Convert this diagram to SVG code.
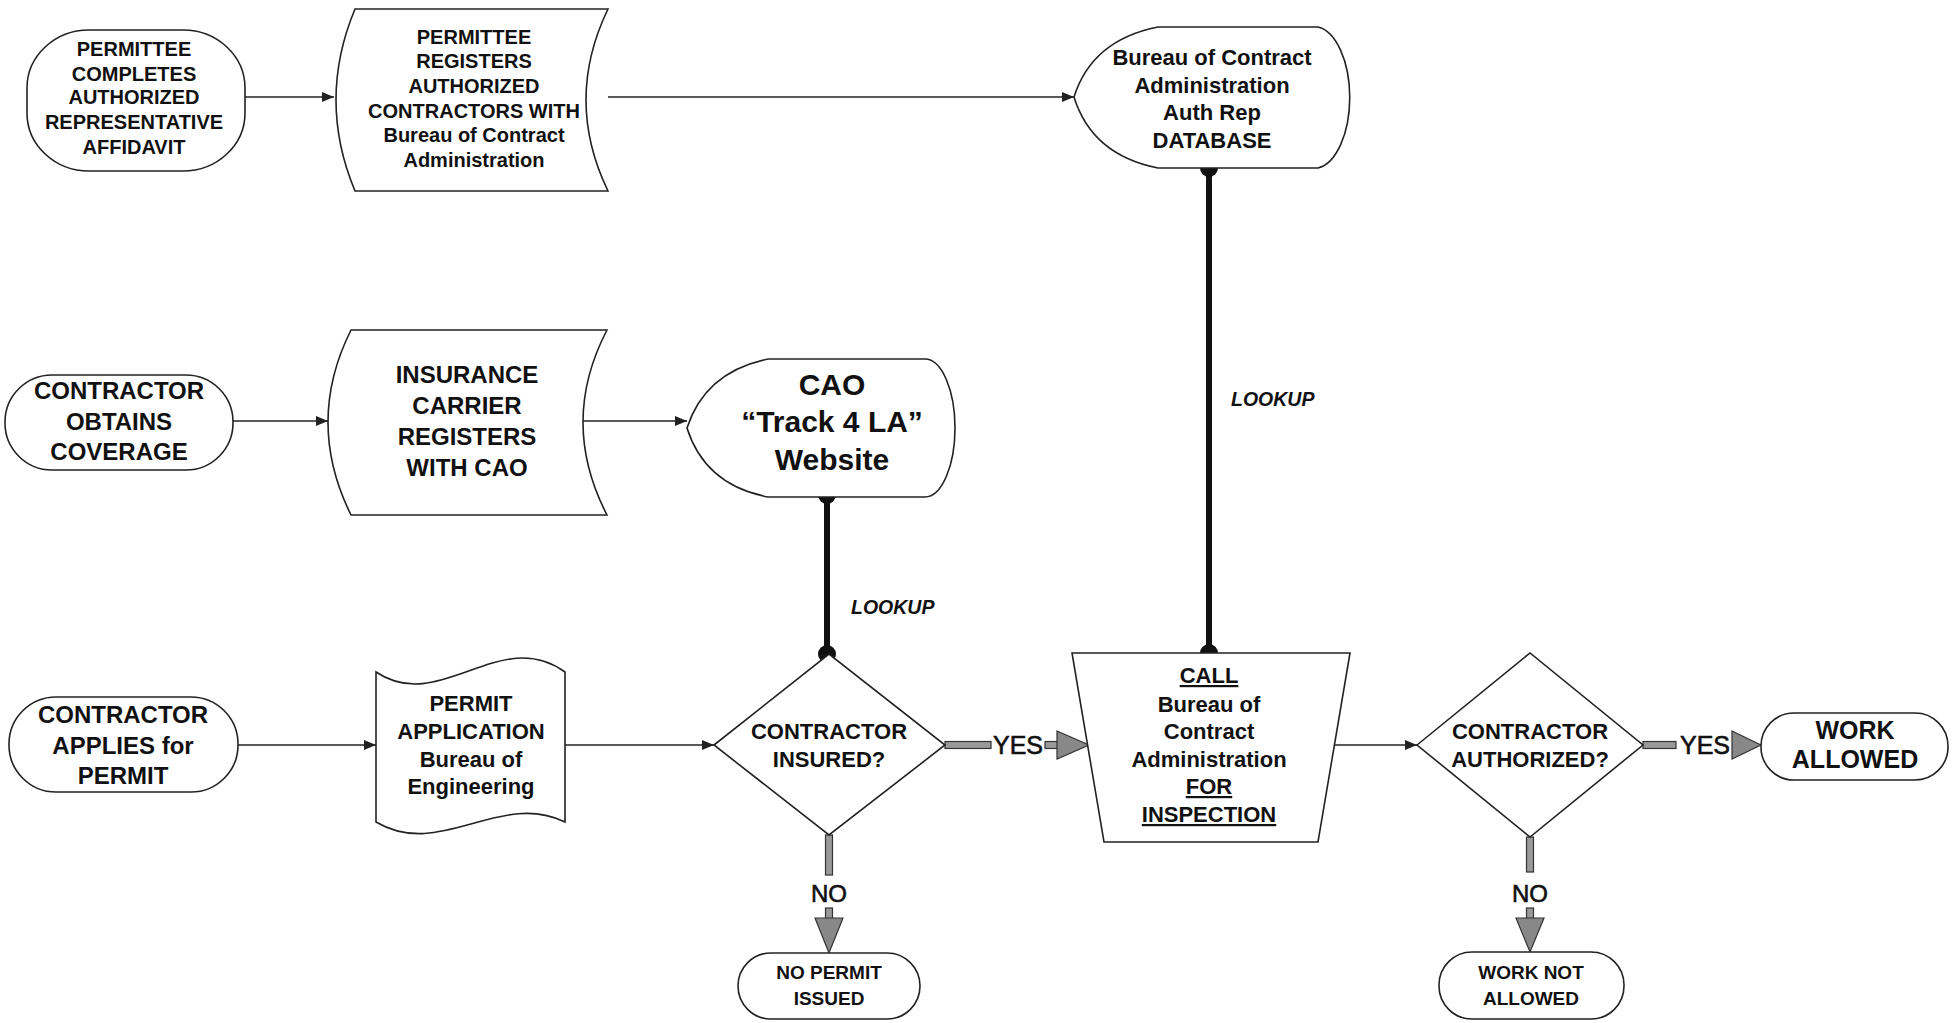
<svg xmlns="http://www.w3.org/2000/svg" width="1954" height="1023" viewBox="0 0 1954 1023">
<style>
.shape{fill:#fff;stroke:#222;stroke-width:1.6}
.t{font-family:"Liberation Sans",Arial,sans-serif;font-weight:bold;fill:#111;text-anchor:middle}
.thin{stroke:#222;stroke-width:1.6;fill:none}
.look{stroke:#111;stroke-width:6;fill:none}
.dot{fill:#111}
.gbar{fill:#999;stroke:#333;stroke-width:1.2}
.ghead{fill:#888;stroke:#333;stroke-width:1.2}
.lbl{font-family:"Liberation Sans",Arial,sans-serif;fill:#111;stroke:#111;stroke-width:0.6;text-anchor:middle}
.lk{font-family:"Liberation Sans",Arial,sans-serif;font-weight:bold;font-style:italic;fill:#111}
.u{text-decoration:underline}
</style>
<defs>
<marker id="ah" viewBox="0 0 12 10" refX="12" refY="5" markerWidth="12" markerHeight="10" markerUnits="userSpaceOnUse" orient="auto">
<path d="M0,0 L12,5 L0,10 Z" fill="#222"/>
</marker>
</defs>
<rect width="1954" height="1023" fill="#fff"/>

<g id="connectors">
<line class="thin" x1="245" y1="97" x2="334" y2="97" marker-end="url(#ah)"/>
<line class="thin" x1="608" y1="97" x2="1074" y2="97" marker-end="url(#ah)"/>
<line class="thin" x1="233" y1="421" x2="328" y2="421" marker-end="url(#ah)"/>
<line class="thin" x1="583" y1="421" x2="687" y2="421" marker-end="url(#ah)"/>
<line class="thin" x1="238" y1="745" x2="376" y2="745" marker-end="url(#ah)"/>
<line class="thin" x1="565" y1="745" x2="714" y2="745" marker-end="url(#ah)"/>
<line class="thin" x1="1334" y1="745" x2="1417" y2="745" marker-end="url(#ah)"/>

<line class="look" x1="1209" y1="168" x2="1209" y2="653"/>
<circle class="dot" cx="1209" cy="168" r="9"/>
<circle class="dot" cx="1209" cy="653" r="9"/>
<text class="lk" x="1231" y="406" font-size="19.5">LOOKUP</text>

<line class="look" x1="827" y1="495" x2="827" y2="654"/>
<circle class="dot" cx="827" cy="495" r="9"/>
<circle class="dot" cx="827" cy="654" r="9"/>
<text class="lk" x="851" y="614" font-size="19.5">LOOKUP</text>

<rect class="gbar" x="945" y="741.5" width="46" height="7"/>
<text class="lbl" x="1018" y="754" font-size="25">YES</text>
<rect class="gbar" x="1045" y="741.5" width="14" height="7"/>
<polygon class="ghead" points="1057,731 1089,745 1057,759"/>

<rect class="gbar" x="825.5" y="835" width="7" height="40"/>
<text class="lbl" x="829" y="902" font-size="24">NO</text>
<rect class="gbar" x="825.5" y="908" width="7" height="12"/>
<polygon class="ghead" points="815,918 843,918 829,953"/>

<rect class="gbar" x="1643" y="741.5" width="33" height="7"/>
<text class="lbl" x="1705" y="754" font-size="25">YES</text>
<polygon class="ghead" points="1732,731 1761,745 1732,759"/>

<rect class="gbar" x="1526.5" y="837" width="7" height="35"/>
<text class="lbl" x="1530" y="902" font-size="24">NO</text>
<rect class="gbar" x="1526.5" y="908" width="7" height="12"/>
<polygon class="ghead" points="1516,918 1544,918 1530,952"/>
</g>

<g id="n1">
<rect class="shape" x="27" y="30" width="218" height="141" rx="62" ry="58"/>
<text class="t" font-size="20"><tspan x="134" y="56">PERMITTEE</tspan><tspan x="134" y="80.5">COMPLETES</tspan><tspan x="134" y="104">AUTHORIZED</tspan><tspan x="134" y="129">REPRESENTATIVE</tspan><tspan x="134" y="154">AFFIDAVIT</tspan></text>
</g>

<g id="n2">
<path class="shape" d="M355,9 L608,9 Q564,100 608,191 L355,191 Q317,100 355,9 Z"/>
<text class="t" font-size="20"><tspan x="474" y="44">PERMITTEE</tspan><tspan x="474" y="68">REGISTERS</tspan><tspan x="474" y="93">AUTHORIZED</tspan><tspan x="474" y="118">CONTRACTORS WITH</tspan><tspan x="474" y="142">Bureau of Contract</tspan><tspan x="474" y="167">Administration</tspan></text>
</g>

<g id="n3">
<path class="shape" d="M1158,27 L1318,27 A36,71 0 0 1 1318,168 L1158,168 Q1092,155 1074,97 Q1092,40 1158,27 Z"/>
<text class="t" font-size="22"><tspan x="1212" y="65">Bureau of Contract</tspan><tspan x="1212" y="93">Administration</tspan><tspan x="1212" y="120">Auth Rep</tspan><tspan x="1212" y="148">DATABASE</tspan></text>
</g>

<g id="n4">
<rect class="shape" x="5" y="375" width="228" height="95" rx="47" ry="47"/>
<text class="t" font-size="24"><tspan x="119" y="399">CONTRACTOR</tspan><tspan x="119" y="430">OBTAINS</tspan><tspan x="119" y="460">COVERAGE</tspan></text>
</g>

<g id="n5">
<path class="shape" d="M351,330 L607,330 Q559,422 607,515 L351,515 Q305,422 351,330 Z"/>
<text class="t" font-size="24"><tspan x="467" y="383">INSURANCE</tspan><tspan x="467" y="414">CARRIER</tspan><tspan x="467" y="445">REGISTERS</tspan><tspan x="467" y="476">WITH CAO</tspan></text>
</g>

<g id="n6">
<path class="shape" d="M768,359 L925,359 A30,69 0 0 1 925,497 L768,497 Q705,485 687,428 Q705,372 768,359 Z"/>
<text class="t" font-size="30"><tspan x="832" y="395">CAO</tspan><tspan x="832" y="432">“Track 4 LA”</tspan><tspan x="832" y="470">Website</tspan></text>
</g>

<g id="n7">
<rect class="shape" x="9" y="697" width="229" height="95" rx="47" ry="47"/>
<text class="t" font-size="24"><tspan x="123" y="723">CONTRACTOR</tspan><tspan x="123" y="754">APPLIES for</tspan><tspan x="123" y="784">PERMIT</tspan></text>
</g>

<g id="n8">
<path class="shape" d="M376,672 C440,715 500,625 565,672 L565,822 C500,790 440,860 376,822 Z"/>
<text class="t" font-size="22"><tspan x="471" y="711">PERMIT</tspan><tspan x="471" y="739">APPLICATION</tspan><tspan x="471" y="767">Bureau of</tspan><tspan x="471" y="794">Engineering</tspan></text>
</g>

<g id="n9">
<polygon class="shape" points="714,745 829,654 945,745 829,835"/>
<text class="t" font-size="22"><tspan x="829" y="739">CONTRACTOR</tspan><tspan x="829" y="767">INSURED?</tspan></text>
</g>

<g id="n10">
<polygon class="shape" points="1072,653 1350,653 1318,842 1104,842"/>
<text class="t" font-size="22"><tspan x="1209" y="683" class="u">CALL</tspan><tspan x="1209" y="712">Bureau of</tspan><tspan x="1209" y="739">Contract</tspan><tspan x="1209" y="767">Administration</tspan><tspan x="1209" y="794" class="u">FOR</tspan><tspan x="1209" y="822" class="u">INSPECTION</tspan></text>
</g>

<g id="n11">
<rect class="shape" x="738" y="953" width="182" height="66" rx="33" ry="33"/>
<text class="t" font-size="19"><tspan x="829" y="979">NO PERMIT</tspan><tspan x="829" y="1005">ISSUED</tspan></text>
</g>

<g id="n12">
<polygon class="shape" points="1417,745 1530,653 1643,745 1530,837"/>
<text class="t" font-size="22"><tspan x="1530" y="739">CONTRACTOR</tspan><tspan x="1530" y="767">AUTHORIZED?</tspan></text>
</g>

<g id="n13">
<rect class="shape" x="1761" y="713" width="187" height="67" rx="33" ry="33"/>
<text class="t" font-size="25"><tspan x="1855" y="739">WORK</tspan><tspan x="1855" y="768">ALLOWED</tspan></text>
</g>

<g id="n14">
<rect class="shape" x="1439" y="952" width="185" height="67" rx="33" ry="33"/>
<text class="t" font-size="19"><tspan x="1531" y="979">WORK NOT</tspan><tspan x="1531" y="1005">ALLOWED</tspan></text>
</g>
</svg>
